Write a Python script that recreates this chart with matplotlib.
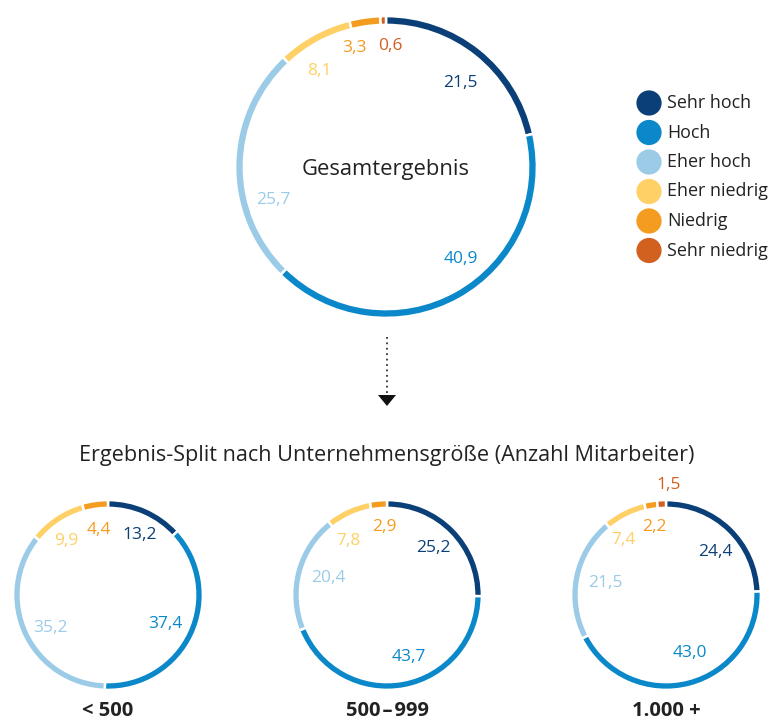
import matplotlib
matplotlib.use("Agg")
import matplotlib.pyplot as plt
import numpy as np

plt.rcParams['font.family'] = ['Open Sans', 'DejaVu Sans']

# data
categories = ['Sehr hoch', 'Hoch', 'Eher hoch', 'Eher niedrig', 'Niedrig', 'Sehr niedrig']
colors = ['#0b3f77', '#0a88c9', '#9ccbe7', '#fed066', '#f39c20', '#d2601f']

total_values = [21.5, 40.9, 25.7, 8.1, 3.3, 0.6]

group_names = ['< 500', '500\u200a\u2013\u200a999', '1.000 +']
group_values = [
    [13.2, 37.4, 35.2, 9.9, 4.4, 0.0],
    [25.2, 43.7, 20.4, 7.8, 2.9, 0.0],
    [24.4, 43.0, 21.5, 7.4, 2.2, 1.5],
]

# label placement tweaks (degrees added to the mid angle, radius factor)
main_shift = [3, -10, -17, -6, -7, 3]
main_rad = [0.75, 0.79, 0.78, 0.78, 0.82, 0.81]
group_shift = [
    [4, 2, -5, -4, 0, 0],
    [-1, -9, 1, -11, 3, 0],
    [5, -8, 0, -11, 0, 4],
]
group_rad = [
    [0.72, 0.68, 0.70, 0.73, 0.70, 0.7],
    [0.70, 0.70, 0.65, 0.71, 0.72, 0.7],
    [0.69, 0.67, 0.66, 0.74, 0.73, 1.17],
]

H = 720


def fmt(v):
    return f"{v:.1f}".replace('.', ',')


def ring(ax, values, cx, cy, r, width, shifts, rads, fontsize):
    # drop empty categories
    keep = [i for i, v in enumerate(values) if v > 0]
    vals = [values[i] for i in keep]
    cols = [colors[i] for i in keep]
    ax.pie(vals, colors=cols, center=(cx, cy), radius=r + 0.9,
           startangle=90, counterclock=False, frame=True,
           wedgeprops=dict(width=width + 1.8, edgecolor='white', linewidth=1.8))
    cum = np.cumsum([0] + vals[:-1])
    s = sum(vals)
    for i, v, c0, col in zip(keep, vals, cum, cols):
        ang = np.deg2rad(360 * (c0 + v / 2) / s + shifts[i])
        x = cx + rads[i] * r * np.sin(ang)
        y = cy + rads[i] * r * np.cos(ang)
        ax.text(x, y, fmt(v), color=col, fontsize=fontsize,
                ha='center', va='center')


fig = plt.figure(figsize=(7.7, 7.2), dpi=100)
ax = fig.add_axes([0, 0, 1, 1])

# main ring
ring(ax, total_values, 386, H - 167, 150, 7, main_shift, main_rad, 12.5)
ax.text(386, H - 169, 'Gesamtergebnis', fontsize=15.8, color='#222222',
        ha='center', va='center')

# arrow
ax.plot([387, 387], [H - 337, H - 393], ls=(0, (1, 2)), color='#333333', lw=1.3)
ax.fill([378, 396, 387], [H - 395, H - 395, H - 406], color='#111111', lw=0)

# title
ax.text(387, H - 455, 'Ergebnis-Split nach Unternehmensgröße (Anzahl Mitarbeiter)',
        fontsize=15.6, color='#222222', ha='center', va='center')

# small rings
centers = [108, 387, 666]
for name, vals, cx, sh, rd in zip(group_names, group_values, centers, group_shift, group_rad):
    ring(ax, vals, cx, H - 595, 94, 6, sh, rd, 12.5)
    ax.text(cx, H - 711, name, fontsize=14.5, fontweight='bold', color='#222222',
            ha='center', va='center')

# legend
for i, (cat, col) in enumerate(zip(categories, colors)):
    y = H - (103 + 29.5 * i)
    ax.scatter([649], [y], s=330, color=col, edgecolors='none')
    ax.text(667, y, cat, fontsize=12.9, color='#222222', ha='left', va='center')

ax.set_xlim(0, 770)
ax.set_ylim(0, H)
ax.set_aspect('equal')
ax.axis('off')

fig.savefig('out.png', dpi=100, facecolor='white')
